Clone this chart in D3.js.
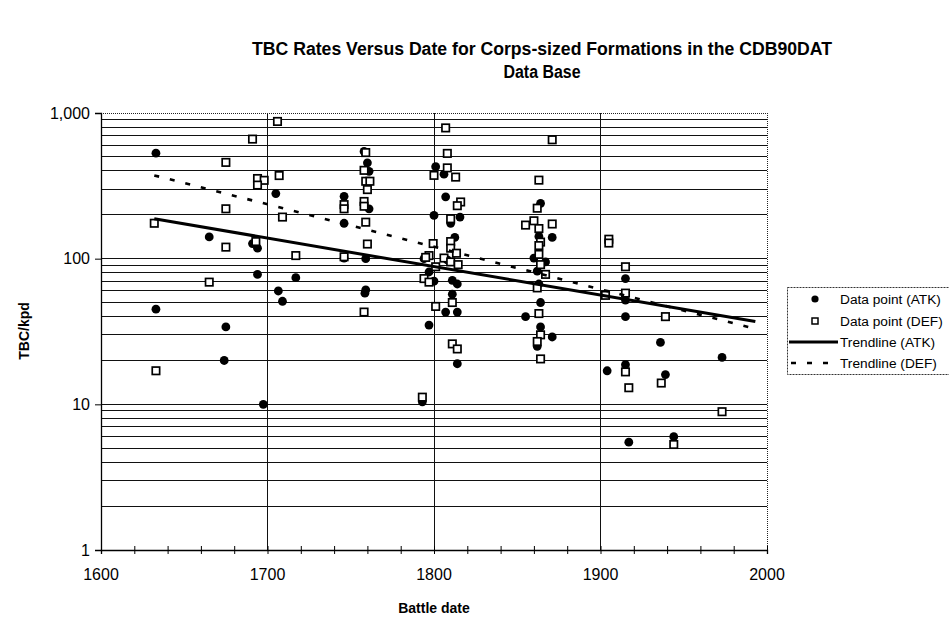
<!DOCTYPE html>
<html><head><meta charset="utf-8">
<script src="https://cdn.jsdelivr.net/npm/d3@7"></script>
<style>
html,body{margin:0;padding:0;background:#fff;}
text{font-family:"Liberation Sans",Arial,sans-serif;fill:#000;}
</style></head>
<body>
<svg id="c" width="949" height="617"></svg>
<script>
// ---- data ----
const atkDate = [1633,1633,1665,1675,1674,1691,1694,1694,1697.5,1705,1706.5,1709,1717,
  1746,1746,1746,1758,1760,1761,1761,1759,1759,1758.5,
  1793,1797,1800,1797,1794,1800,1801,1806,1807,1815.6,1810,1812.5,1808,1811,1814,1811,1807,1814,1814,
  1864,1871,1863,1860,1867,1862,1863,1864,1855,1864,1871,1862,
  1915,1915,1915,1936,1973,1904,1915,1939,1917,1944];
const atkRate = [530,45,141,34,20,127,118,78,10,280,60,51,74,
  268,175,101,545,455,398,220,100,61,58,
  10.4,35,70,81,100,198,428,380,266,193,175,140,98,71,67,57,43,43,19,
  240,140,142,101,95,82,67,50,40,34,29,25,
  73,52,40,26.6,21,17,18.7,16,5.5,6];
const defDate = [1706,1691,1675,1694,1698,1707,1694,1675,1709,1632,1675,1693,1717,
  1746,1746,1746,1665,1633,
  1759,1758,1759,1761.5,1760,1758,1758,1759,1760,1758,
  1807,1808,1808,1800,1813,1816,1814,1810,1810,1799.5,1810,1797,1795,1813.5,1806,1810,1814.5,1801,1794,1797,1811,1801,1811,1814,1793,
  1871,1863,1862,1855,1860,1863,1871,1864,1863,1863,1864,1867,1862,1863,1864,1862,1864,
  1905,1905,1915,1903,1915,1939,1915,1917,1936.5,1973,1944];
const defRate = [875,662,458,355,345,372,320,220,193,175,120,131,105,
  235,220,103,69,17,
  535,404,340,340,298,247,229,178,126,43,
  790,528,420,373,363,245,231,188,131,127,118,105,102,109,101,95,91,88,73,69,50,47,26,24,11.2,
  655,346,222,170,182,161,173,130,123,107,91,78,63,42,30,27,20.5,
  136,128,88,56,58,40,16.7,13,14,8.9,5.3];
const trendDate = [1632, 1993];
const trendATK = [188, 37];
const trendDEF = [373, 33];
const xTicks = [1600,1700,1800,1900,2000];
const yTicks = [1,10,100,1000];
const yTickLabels = ["1","10","100","1,000"];
const legendLabels = ["Data point (ATK)","Data point (DEF)","Trendline (ATK)","Trendline (DEF)"];
const titleLines = ["TBC Rates Versus Date for Corps-sized Formations in the CDB90DAT","Data Base"];
const titleWidths = [580, 77];

// ---- layout ----
const L = 101, R = 767, T = 113, B = 550;
const svg = d3.select("#c");
const x = d3.scaleLinear().domain([1600,2000]).range([L,R]);
const y = d3.scaleLog().domain([1,1000]).range([B,T]);

// horizontal gridlines
const gridVals = [];
[1,10,100].forEach(d => { for (let m = 1; m <= 9; m++) { const v = d*m; if (v > 1) gridVals.push(v); } });
svg.append("g").selectAll("line").data(gridVals).join("line")
  .attr("x1", L).attr("x2", R).attr("y1", d => y(d)).attr("y2", d => y(d))
  .attr("stroke", "#111").attr("stroke-width", 1).attr("shape-rendering","crispEdges");
// vertical gridlines
svg.append("g").selectAll("line").data([1700,1800,1900]).join("line")
  .attr("x1", d => x(d)).attr("x2", d => x(d)).attr("y1", T).attr("y2", B)
  .attr("stroke", "#111").attr("stroke-width", 1).attr("shape-rendering","crispEdges");
// top / right dotted border
svg.append("line").attr("x1",L).attr("x2",R).attr("y1",T).attr("y2",T)
  .attr("stroke","#222").attr("stroke-dasharray","1,1").attr("shape-rendering","crispEdges");
svg.append("line").attr("x1",R).attr("x2",R).attr("y1",T).attr("y2",B)
  .attr("stroke","#222").attr("stroke-dasharray","1,1").attr("shape-rendering","crispEdges");

// x axis
const xAxis = d3.axisBottom(x).tickValues(d3.range(1600,2001,20)).tickSize(4).tickFormat("");
const gx = svg.append("g").attr("transform",`translate(0,${B})`).call(xAxis);
gx.select(".domain").attr("stroke","#000").attr("stroke-width",1.3);
gx.selectAll(".tick line").attr("y1",-4).attr("stroke","#000");
svg.append("g").selectAll("text").data(xTicks).join("text")
  .attr("x", d => x(d)).attr("y", 580).attr("text-anchor","middle")
  .attr("font-size", 16).text(d => d);

// y axis
const yAxis = d3.axisLeft(y).tickValues(yTicks).tickSize(6).tickFormat("");
const gy = svg.append("g").attr("transform",`translate(${L},0)`).call(yAxis);
gy.select(".domain").attr("stroke","#000").attr("stroke-width",1.3);
gy.selectAll(".tick line").attr("stroke","#000");
svg.append("g").selectAll("text").data(yTicks).join("text")
  .attr("x", 90).attr("y", d => y(d) + 5.5).attr("text-anchor","end")
  .attr("font-size", 16).text((d,i) => yTickLabels[i]);

// axis titles
svg.append("text").attr("x", 434).attr("y", 613).attr("text-anchor","middle")
  .attr("font-size", 14).attr("font-weight","bold").text("Battle date");
svg.append("text").attr("transform","translate(29,331) rotate(-90)").attr("text-anchor","middle")
  .attr("font-size", 14).attr("font-weight","bold").text("TBC/kpd");

// title
svg.append("g").selectAll("text").data(titleLines).join("text")
  .attr("x", 542).attr("y", (d,i) => 55 + i*23).attr("text-anchor","middle")
  .attr("font-size", 18).attr("font-weight","bold")
  .attr("textLength", (d,i) => titleWidths[i]).attr("lengthAdjust","spacingAndGlyphs")
  .text(d => d);

// data points
const atk = atkDate.map((d,i) => [d, atkRate[i]]);
const def = defDate.map((d,i) => [d, defRate[i]]);
svg.append("g").selectAll("circle").data(atk).join("circle")
  .attr("cx", d => x(d[0])).attr("cy", d => y(d[1])).attr("r", 4.4).attr("fill","#000");
svg.append("g").selectAll("rect").data(def).join("rect")
  .attr("x", d => x(d[0]) - 3.7).attr("y", d => y(d[1]) - 3.7).attr("width", 7.4).attr("height", 7.4)
  .attr("fill","#fff").attr("stroke","#000").attr("stroke-width",1.7);

// trendlines
const line = d3.line().x(d => x(d[0])).y(d => y(d[1]));
svg.append("path").datum(trendDate.map((d,i) => [d, trendATK[i]])).attr("d", line)
  .attr("fill","none").attr("stroke","#000").attr("stroke-width",3);
svg.append("path").datum(trendDate.map((d,i) => [d, trendDEF[i]])).attr("d", line)
  .attr("fill","none").attr("stroke","#000").attr("stroke-width",2.6).attr("stroke-dasharray","5,11");

// legend
const lg = svg.append("g");
lg.append("rect").attr("x",787.5).attr("y",287.5).attr("width",170).attr("height",87)
  .attr("fill","#fff").attr("stroke","#333").attr("stroke-width",1).attr("stroke-dasharray","2,1");
const rowY = [299, 321, 342, 363];
lg.append("circle").attr("cx",815).attr("cy",rowY[0]).attr("r",3.6).attr("fill","#000");
lg.append("rect").attr("x",812).attr("y",rowY[1]-3).attr("width",6).attr("height",6)
  .attr("fill","#fff").attr("stroke","#000").attr("stroke-width",1.5);
lg.append("line").attr("x1",789).attr("x2",838).attr("y1",rowY[2]).attr("y2",rowY[2])
  .attr("stroke","#000").attr("stroke-width",3);
lg.append("line").attr("x1",791).attr("x2",838).attr("y1",rowY[3]).attr("y2",rowY[3])
  .attr("stroke","#000").attr("stroke-width",2.5).attr("stroke-dasharray","5,11");
lg.selectAll("text.l").data(legendLabels).join("text").attr("class","l")
  .attr("x", 840).attr("y", (d,i) => rowY[i] + 5).attr("font-size", 13.7).text(d => d);
</script>
</body></html>
